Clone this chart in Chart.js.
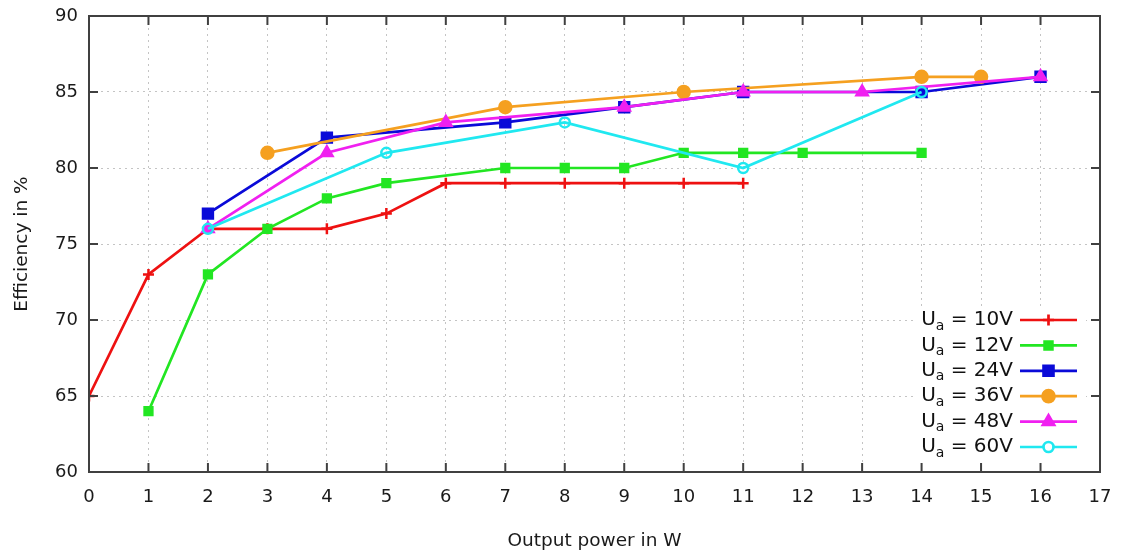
<!DOCTYPE html>
<html lang="en">
<head>
    <meta charset="UTF-8">
    <title>Efficiency vs output power</title>
    <script src="https://cdn.jsdelivr.net/npm/chart.js@4/dist/chart.umd.min.js"></script>
    <style>
        * { margin: 0; padding: 0; box-sizing: border-box; }
        body { background: #ffffff; }
        .chart-container { width: 1121px; height: 553px; position: relative; }
    </style>
</head>
<body>
    <div class="chart-container">
        <canvas id="effChart"></canvas>
    </div>

    <script>
        // Data
        const seriesNames = ['10V', '12V', '24V', '36V', '48V', '60V'];

        const x10 = [0, 1, 2, 3, 4, 5, 6, 7, 8, 9, 10, 11];
        const y10 = [65, 73, 76, 76, 76, 77, 79, 79, 79, 79, 79, 79];

        const x12 = [1, 2, 3, 4, 5, 7, 8, 9, 10, 11, 12, 14];
        const y12 = [64, 73, 76, 78, 79, 80, 80, 80, 81, 81, 81, 81];

        const x24 = [2, 4, 7, 9, 11, 14, 16];
        const y24 = [77, 82, 83, 84, 85, 85, 86];

        const x36 = [3, 7, 10, 14, 15];
        const y36 = [81, 84, 85, 86, 86];

        const x48 = [2, 4, 6, 9, 11, 13, 16];
        const y48 = [76, 81, 83, 84, 85, 85, 86];

        const x60 = [2, 5, 8, 11, 14];
        const y60 = [76, 81, 83, 80, 85];

        const xTicks = [0, 1, 2, 3, 4, 5, 6, 7, 8, 9, 10, 11, 12, 13, 14, 15, 16, 17];
        const yTicks = [60, 65, 70, 75, 80, 85, 90];

        const FONT = "'DejaVu Sans', Verdana, sans-serif";
        const frameColor = '#404040';

        const styles = [
            { color: '#ee1111', pointStyle: 'cross', radius: 5.5, fill: false },
            { color: '#22e622', pointStyle: 'rect', radius: 5.5, fill: true },
            { color: '#0a0ad8', pointStyle: 'rect', radius: 7, fill: true },
            { color: '#f5a020', pointStyle: 'circle', radius: 6, fill: true },
            { color: '#f020f0', pointStyle: 'triangle', radius: 6.5, fill: true },
            { color: '#20e8f0', pointStyle: 'circle', radius: 5, fill: false }
        ];

        const xs = [x10, x12, x24, x36, x48, x60];
        const ys = [y10, y12, y24, y36, y48, y60];

        const toPoints = (xa, ya) => xa.map((x, i) => ({ x: x, y: ya[i] }));

        const datasets = seriesNames.map((name, i) => ({
            label: 'Ua = ' + name,
            data: toPoints(xs[i], ys[i]),
            borderColor: styles[i].color,
            backgroundColor: styles[i].fill ? styles[i].color : '#ffffff',
            borderWidth: 2.7,
            pointStyle: styles[i].pointStyle,
            pointRadius: styles[i].radius,
            pointBorderWidth: 2.5,
            pointBackgroundColor: styles[i].fill ? styles[i].color : 'rgba(255,255,255,0)',
            tension: 0,
            order: seriesNames.length - i
        }));

        // gnuplot-like frame with inward, mirrored ticks
        const framePlugin = {
            id: 'frame',
            afterDatasetsDraw(chart) {
                const { ctx, chartArea: a, scales } = chart;
                const tl = 9;
                ctx.save();
                ctx.strokeStyle = frameColor;
                ctx.lineWidth = 2;
                ctx.beginPath();
                xTicks.forEach(v => {
                    const px = scales.x.getPixelForValue(v);
                    ctx.moveTo(px, a.bottom); ctx.lineTo(px, a.bottom - tl);
                    ctx.moveTo(px, a.top); ctx.lineTo(px, a.top + tl);
                });
                yTicks.forEach(v => {
                    const py = scales.y.getPixelForValue(v);
                    ctx.moveTo(a.left, py); ctx.lineTo(a.left + tl, py);
                    ctx.moveTo(a.right, py); ctx.lineTo(a.right - tl, py);
                });
                ctx.stroke();
                ctx.strokeRect(a.left, a.top, a.right - a.left, a.bottom - a.top);
                ctx.restore();
            }
        };

        // Legend inside the plot, text left of the line sample, subscript "a"
        const keyPlugin = {
            id: 'key',
            afterDatasetsDraw(chart) {
                const { ctx } = chart;
                const textRight = 1013;
                const lineL = 1020, lineR = 1077;
                const top = 320, step = 25.4;
                ctx.save();
                ctx.fillStyle = '#ffffff';
                ctx.fillRect(914, top - 14, 172, step * seriesNames.length + 4);
                seriesNames.forEach((name, i) => {
                    const y = top + i * step;
                    const big = '20px ' + FONT, small = '14px ' + FONT;
                    const rest = ' = ' + name;
                    ctx.font = big;
                    const wU = ctx.measureText('U').width;
                    const wRest = ctx.measureText(rest).width;
                    ctx.font = small;
                    const wA = ctx.measureText('a').width;
                    let x = textRight - (wU + wA + wRest);
                    ctx.fillStyle = '#111111';
                    ctx.textBaseline = 'middle';
                    ctx.textAlign = 'left';
                    ctx.font = big;
                    ctx.fillText('U', x, y);
                    ctx.font = small;
                    ctx.fillText('a', x + wU, y + 6);
                    ctx.font = big;
                    ctx.fillText(rest, x + wU + wA, y);

                    const s = styles[i];
                    ctx.strokeStyle = s.color;
                    ctx.lineWidth = 2.7;
                    ctx.beginPath();
                    ctx.moveTo(lineL, y); ctx.lineTo(lineR, y);
                    ctx.stroke();
                    ctx.fillStyle = s.fill ? s.color : '#ffffff';
                    Chart.helpers.drawPoint(ctx, {
                        pointStyle: s.pointStyle,
                        radius: s.radius,
                        borderWidth: 2.5,
                        rotation: 0
                    }, (lineL + lineR) / 2, y);
                });
                ctx.restore();
            }
        };

        const ctx = document.getElementById('effChart').getContext('2d');
        Chart.defaults.font.family = FONT;
        Chart.defaults.color = '#1a1a1a';

        new Chart(ctx, {
            type: 'line',
            data: { datasets: datasets },
            options: {
                responsive: true,
                maintainAspectRatio: false,
                animation: false,
                layout: { padding: { top: 16, right: 21, left: 0, bottom: 0 } },
                plugins: {
                    legend: { display: false },
                    tooltip: { enabled: false }
                },
                scales: {
                    x: {
                        type: 'linear',
                        min: 0,
                        max: 17,
                        afterBuildTicks: scale => { scale.ticks = xTicks.map(v => ({ value: v })); },
                        afterFit: scale => {
                            scale.height = 81;
                            scale.paddingLeft = 0;
                            scale.paddingRight = 0;
                        },
                        grid: { color: '#c4c4c4', lineWidth: 1, drawTicks: false },
                        border: { display: false, dash: [2, 4] },
                        ticks: { font: { size: 18 }, padding: 15, maxRotation: 0 },
                        title: {
                            display: true,
                            text: 'Output power in W',
                            font: { size: 18.5 },
                            padding: { top: 0, bottom: 1 }
                        }
                    },
                    y: {
                        min: 60,
                        max: 90,
                        afterBuildTicks: scale => { scale.ticks = yTicks.map(v => ({ value: v })); },
                        afterFit: scale => {
                            scale.width = 89;
                            scale.paddingTop = 0;
                            scale.paddingBottom = 0;
                        },
                        grid: { color: '#c4c4c4', lineWidth: 1, drawTicks: false },
                        border: { display: false, dash: [2, 4] },
                        ticks: { font: { size: 18 }, padding: 11 },
                        title: {
                            display: true,
                            text: 'Efficiency in %',
                            font: { size: 18.5 },
                            padding: { top: 11, bottom: 0 }
                        }
                    }
                }
            },
            plugins: [framePlugin, keyPlugin]
        });
    </script>
</body>
</html>
